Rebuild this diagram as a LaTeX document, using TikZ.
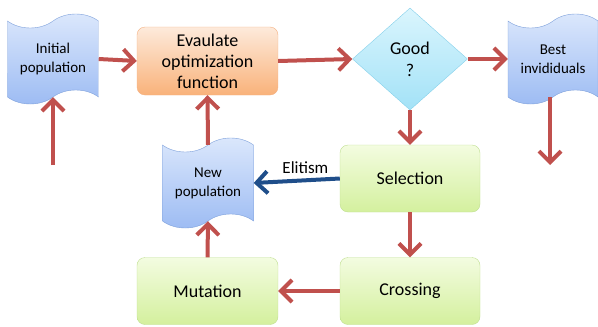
\documentclass[tikz,border=0pt]{standalone}
\usepackage{fontspec}
\setmainfont{Carlito}
\usetikzlibrary{shapes.geometric}
\usetikzlibrary{shapes.symbols}
\usetikzlibrary{arrows.meta}
\definecolor{flowred}{HTML}{C0504D}
\definecolor{eliteblue}{HTML}{1F4E8A}
\definecolor{doctop}{HTML}{DCE8FC}
\definecolor{docbottom}{HTML}{9CBBF3}
\definecolor{docline}{HTML}{7C9FDA}
\definecolor{evaltop}{HTML}{FDEADB}
\definecolor{evalbottom}{HTML}{F9B27A}
\definecolor{evalline}{HTML}{F4B183}
\definecolor{steptop}{HTML}{F3FCE0}
\definecolor{stepbottom}{HTML}{D4F09E}
\definecolor{stepline}{HTML}{C0DF92}
\definecolor{asktop}{HTML}{DAF5FD}
\definecolor{askbottom}{HTML}{A3E2F7}
\definecolor{askline}{HTML}{85D0EA}
\tikzset{
  flow/.style={draw=flowred, line width=4pt, -{Straight Barb[length=11pt,width=22pt]}},
  elite/.style={flow, draw=eliteblue},
  popdoc/.style={tape, draw=docline, top color=doctop, bottom color=docbottom,
    minimum width=91pt, minimum height=90pt, tape bend height=14pt,
    align=center, inner sep=0pt, font=\fontsize{15}{19}\selectfont},
  stepbox/.style={rectangle, rounded corners=8pt, draw=stepline, top color=steptop,
    bottom color=stepbottom, minimum width=140pt, minimum height=67pt,
    align=center, font=\fontsize{18}{21}\selectfont},
}
\begin{document}
\begin{tikzpicture}[x=1pt, y=-1pt]
  \useasboundingbox (0,0) rectangle (598,327);

  % documents
  \node [popdoc] (init) at (53,59) {Initial\\population};
  \node [popdoc] (newpop) at (208,183) {New\\population};
  \node [popdoc, minimum width=90pt] (best) at (553,59) {Best\\invididuals};

  % steps
  \node [stepbox, draw=evalline, top color=evaltop, bottom color=evalbottom,
    minimum width=141pt, minimum height=68pt] (eval) at (207.5,61) {Evaulate\\optimization\\function};
  \node [diamond, draw=askline, top color=asktop, bottom color=askbottom,
    minimum width=115pt, minimum height=102pt, inner sep=0pt, align=center,
    font=\fontsize{18}{22}\selectfont] (good) at (410,59) {Good\\?};
  \node [stepbox] (sel) at (410,178.5) {Selection};
  \node [stepbox] (cross) at (410,291) {Crossing};
  \node [stepbox, minimum width=141pt] (mut) at (207.5,291) {Mutation};

  \coordinate (start) at (53,165);
  \coordinate (finish) at (550,165);

  % connectors
  \draw [flow] (start) -- (init.south);
  \draw [flow] (init.east) -- (eval.west);
  \draw [flow] (eval.east) -- (good.west);
  \draw [flow] (good.east) -- (best.west);
  \draw [flow] (best.south -| finish) -- (finish);
  \draw [flow] (good.south) -- (sel.north);
  \draw [flow] (sel.south) -- (cross.north);
  \draw [flow] (cross.west) -- (mut.east);
  \draw [flow] (mut.north) -- (newpop.south);
  \draw [flow] (newpop.north) -- (eval.south);
  \draw [elite] (sel.west) -- (newpop.east)
    node [pos=0.4, above=1pt, text=black, font=\fontsize{17}{20}\selectfont] (elitism) {Elitism};
\end{tikzpicture}
\end{document}
